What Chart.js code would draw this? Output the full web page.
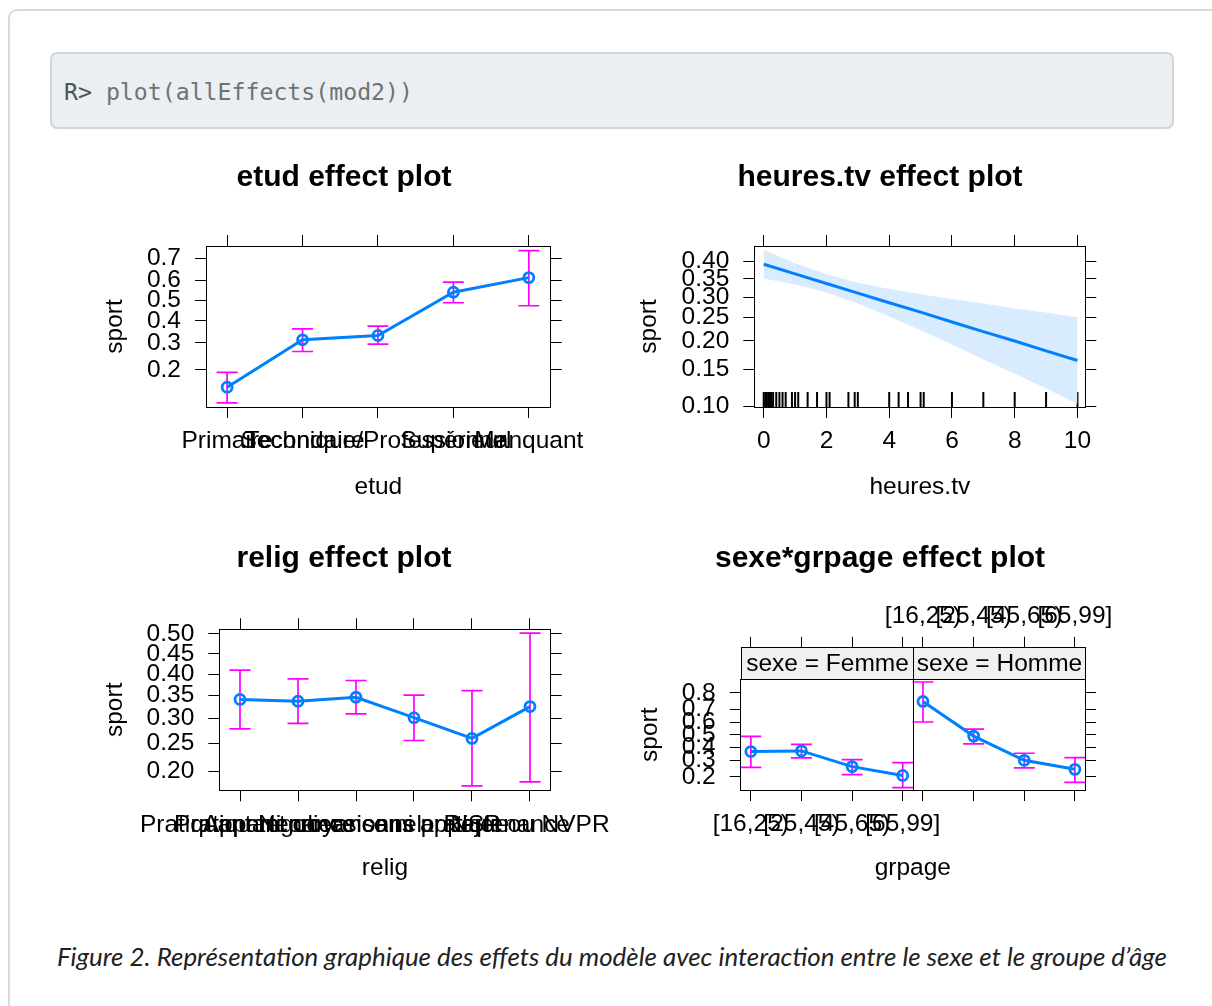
<!DOCTYPE html>
<html><head><meta charset="utf-8">
<script src="https://cdn.jsdelivr.net/npm/chart.js@4"></script>
<style>
html,body{margin:0;padding:0;background:#fff;}
body{width:1212px;height:1006px;position:relative;overflow:hidden;}
#frame{position:absolute;left:8px;top:9px;width:1240px;height:1030px;border:2px solid #dadada;border-radius:9px;box-sizing:border-box;}
#code{position:absolute;left:50px;top:52px;width:1124px;height:77px;box-sizing:border-box;background:#ebeff1;border:2px solid #cfd5d8;border-radius:7px;font-family:'DejaVu Sans Mono',monospace;font-size:23.2px;line-height:75px;padding-left:12px;color:#6b7477;white-space:pre;}
#code .p{color:#4d5558;}
canvas{position:absolute;}
#caption{position:absolute;left:57px;top:938px;font-family:Lato,sans-serif;font-style:italic;font-size:25.9px;color:#222;white-space:nowrap;line-height:36px;}
</style></head>
<body>
<div id="frame"></div>
<div id="code"><span class="p">R&gt;</span> plot(allEffects(mod2))</div>
<canvas id="c1" width="552" height="370" style="left:68px;top:150px;width:552px;height:370px"></canvas>
<canvas id="c2" width="520" height="370" style="left:620px;top:150px;width:520px;height:370px"></canvas>
<canvas id="c3" width="552" height="370" style="left:68px;top:530px;width:552px;height:370px"></canvas>
<canvas id="c4" width="520" height="370" style="left:620px;top:530px;width:520px;height:370px"></canvas>
<div id="caption">Figure 2. Représentation graphique des effets du modèle avec interaction entre le sexe et le groupe d’âge</div>
<script>
// ---------------- DATA ----------------
// Panel 1: etud
const etudCats  = ['Primaire', 'Secondaire', 'Technique/Professionnel', 'Supérieur', 'Manquant'];
const etudFit   = [0.150, 0.313, 0.332, 0.542, 0.613];
const etudLower = [0.114, 0.265, 0.295, 0.489, 0.474];
const etudUpper = [0.192, 0.362, 0.375, 0.591, 0.731];
const etudYTicks = [0.2, 0.3, 0.4, 0.5, 0.6, 0.7];

// Panel 2: heures.tv
const tvX     = [0, 1, 2, 3, 4, 5, 6, 7, 8, 9, 10];
const tvFit   = [0.392, 0.364, 0.337, 0.311, 0.286, 0.263, 0.240, 0.219, 0.200, 0.181, 0.164];
const tvLower = [0.351, 0.334, 0.313, 0.284, 0.253, 0.222, 0.193, 0.166, 0.143, 0.122, 0.103];
const tvUpper = [0.435, 0.395, 0.363, 0.339, 0.322, 0.308, 0.296, 0.284, 0.272, 0.262, 0.251];
const tvRug   = [0, 0.05, 0.1, 0.15, 0.2, 0.25, 0.3, 0.4, 0.5, 0.6, 0.7, 0.9, 1, 1.1, 1.4, 1.7, 2, 2.1, 2.7, 2.9, 3, 4, 4.3, 4.6, 5, 5.1, 6, 7, 8, 9, 10];
const tvXTicks = [0, 2, 4, 6, 8, 10];
const tvYTicks = [0.10, 0.15, 0.20, 0.25, 0.30, 0.35, 0.40];

// Panel 3: relig
const religCats  = ['Pratiquant regulier', 'Pratiquant occasionnel', 'Appartenance sans pratique', 'Ni croyance ni appartenance', 'Rejet', 'NSP ou NVPR'];
const religFit   = [0.341, 0.337, 0.346, 0.301, 0.259, 0.325];
const religLower = [0.278, 0.289, 0.309, 0.255, 0.178, 0.184];
const religUpper = [0.410, 0.389, 0.385, 0.351, 0.361, 0.502];
const religYTicks = [0.20, 0.25, 0.30, 0.35, 0.40, 0.45, 0.50];

// Panel 4: sexe*grpage
const grpageCats  = ['[16,25)', '[25,45)', '[45,65)', '[65,99]'];
const sexeLevels  = ['Femme', 'Homme'];
const femmeFit    = [0.365, 0.370, 0.259, 0.207];
const femmeLower  = [0.254, 0.318, 0.211, 0.149];
const femmeUpper  = [0.487, 0.421, 0.306, 0.285];
const hommeFit    = [0.750, 0.489, 0.301, 0.242];
const hommeLower  = [0.604, 0.426, 0.251, 0.172];
const hommeUpper  = [0.851, 0.547, 0.352, 0.320];
const sexeYTicks  = [0.2, 0.3, 0.4, 0.5, 0.6, 0.7, 0.8];

// ---------------- STYLE ----------------
const FONT = "'Liberation Sans', Arial, Helvetica, sans-serif";
const LBL = {family: FONT, size: 24.5};
const TTL = {family: FONT, size: 30, weight: 'bold'};
const BLUE = '#0080ff', MAGENTA = '#ff00ff';
const TICK = 11;
const FACET_SHIFT = 3.4;          // width of one facet in x units (0.8 .. 4.2)
const STRIP_H = 32;
const RUG_LEVEL = 0.047, RUG_HALF = 7.5;

// ---------------- LOGIT SCALE ----------------
const logit = p => Math.log(p / (1 - p));
const invLogit = l => 1 / (1 + Math.exp(-l));
class LogitScale extends Chart.LinearScale {
  determineDataLimits() { this.min = this.options.min; this.max = this.options.max; }
  buildTicks() { return []; }
  getPixelForValue(v) {
    if (v === null || v === undefined || isNaN(v)) return NaN;
    const a = logit(this.min), b = logit(this.max);
    return this.getPixelForDecimal((logit(v) - a) / (b - a));
  }
  getValueForPixel(px) {
    const a = logit(this.min), b = logit(this.max);
    return invLogit(a + this.getDecimalForPixel(px) * (b - a));
  }
}
LogitScale.id = 'logit';
LogitScale.defaults = {};
Chart.register(LogitScale);

// ---------------- HELPERS ----------------
const fitLine = (xs, ys, axis) => ({
  data: xs.map((x, i) => ({x, y: ys[i]})), yAxisID: axis || 'y',
  borderColor: BLUE, borderWidth: 3, tension: 0, fill: false,
  pointRadius: 5, pointBorderWidth: 2.8, pointBorderColor: BLUE, pointBackgroundColor: 'rgba(0,0,0,0)'
});
const ciBars = (xs, lo, hi) => {
  const pts = [];
  xs.forEach((x, i) => { pts.push({x, y: lo[i]}, {x, y: hi[i]}, {x, y: null}); });
  return {data: pts, borderColor: MAGENTA, borderWidth: 1.7, spanGaps: false, fill: false,
    pointStyle: 'line', pointRadius: 10.5, pointBorderColor: MAGENTA, pointBorderWidth: 1.7, pointHoverRadius: 10.5};
};
const gridOpt = (len) => ({display: true, drawOnChartArea: false, drawTicks: true, tickLength: len || TICK, color: '#000', lineWidth: 1});
const borderOpt = {display: true, color: '#000', width: 1};

function makeChart(id, p) {
  const xTickObjs = s => { s.ticks = p.xTicks.map(v => ({value: v})); };
  const yTickObjs = s => { s.ticks = p.yTicks.map(v => ({value: v})); };
  const scales = {
    x: {type: 'linear', position: 'bottom', min: p.xMin, max: p.xMax, bounds: 'data',
      afterBuildTicks: xTickObjs,
      ticks: {autoSkip: false, maxRotation: 0, minRotation: 0, padding: 9, color: '#000', font: LBL,
        callback: (v, i) => p.bottomLabel(i)},
      grid: gridOpt(), border: borderOpt,
      title: {display: true, text: p.xTitle, color: '#000', font: LBL, padding: {top: 0, bottom: p.xTitlePad}},
      afterFit: s => { s.height = p.sizes.bottom; s.paddingLeft = 0; s.paddingRight = 0; }},
    x2: {axis: 'x', type: 'linear', position: 'top', min: p.xMin, max: p.xMax, bounds: 'data',
      afterBuildTicks: xTickObjs,
      ticks: {display: !!p.topLabel, autoSkip: false, maxRotation: 0, minRotation: 0, padding: p.topPad || 8, color: '#000', font: LBL,
        callback: (v, i) => p.topLabel ? p.topLabel(i) : ''},
      grid: gridOpt(p.topTickLen), border: borderOpt,
      afterFit: s => { s.height = p.sizes.top; s.paddingLeft = 0; s.paddingRight = 0; }},
    y: {type: 'logit', position: 'left', min: p.yMin, max: p.yMax,
      afterBuildTicks: yTickObjs,
      ticks: {autoSkip: false, padding: 14, color: '#000', font: LBL, callback: (v, i) => p.yTicks[i].toFixed(p.yDec)},
      grid: gridOpt(), border: borderOpt,
      title: {display: true, text: 'sport', color: '#000', font: LBL, padding: {top: p.yTitlePad, bottom: 0}},
      afterFit: s => { s.width = p.sizes.left; s.paddingTop = 0; s.paddingBottom = 0; }},
    y2: {axis: 'y', type: 'logit', position: 'right', min: p.yMin, max: p.yMax,
      afterBuildTicks: yTickObjs,
      ticks: {display: false},
      grid: gridOpt(), border: borderOpt,
      afterFit: s => { s.width = p.sizes.right; s.paddingTop = 0; s.paddingBottom = 0; }}
  };
  if (p.extraScales) Object.assign(scales, p.extraScales);
  return new Chart(document.getElementById(id), {
    type: 'line',
    data: {datasets: p.datasets},
    options: {
      responsive: false, animation: false, events: [],
      layout: {padding: 0},
      plugins: {
        legend: {display: false}, tooltip: {enabled: false},
        title: {display: true, text: p.title, color: '#000', font: TTL, fullSize: true, padding: {top: p.titlePad, bottom: 0}}
      },
      scales
    },
    plugins: p.plugins || []
  });
}

// ---------------- PANEL 1: etud ----------------
const etudX = etudCats.map((c, i) => i + 1);
makeChart('c1', {
  title: 'etud effect plot', titlePad: 10,
  sizes: {left: 138, right: 69.3, top: 50, bottom: 113},
  xMin: 0.72, xMax: 5.29, xTicks: etudX, bottomLabel: i => etudCats[i], xTitle: 'etud', xTitlePad: 18.5,
  yMin: 0.106, yMax: 0.749, yTicks: etudYTicks, yDec: 1, yTitlePad: 32.3,
  datasets: [fitLine(etudX, etudFit), ciBars(etudX, etudLower, etudUpper)]
});

// ---------------- PANEL 2: heures.tv ----------------
makeChart('c2', {
  title: 'heures.tv effect plot', titlePad: 10,
  sizes: {left: 134.3, right: 54.7, top: 50, bottom: 113},
  xMin: -0.30, xMax: 10.25, xTicks: tvXTicks, bottomLabel: i => String(tvXTicks[i]), xTitle: 'heures.tv', xTitlePad: 18.5,
  yMin: 0.0995, yMax: 0.447, yTicks: tvYTicks, yDec: 2, yTitlePad: 15,
  extraScales: {yr: {axis: 'y', type: 'linear', display: false, min: 0, max: 1}},
  datasets: [
    {data: tvX.map((x, i) => ({x, y: tvFit[i]})), borderColor: BLUE, borderWidth: 3, pointRadius: 0, tension: 0, fill: false},
    {data: tvX.map((x, i) => ({x, y: tvUpper[i]})), borderWidth: 0, borderColor: 'rgba(0,0,0,0)', pointRadius: 0, tension: 0, fill: '+1', backgroundColor: 'rgb(217,236,255)'},
    {data: tvX.map((x, i) => ({x, y: tvLower[i]})), borderWidth: 0, borderColor: 'rgba(0,0,0,0)', pointRadius: 0, tension: 0, fill: false},
    {data: tvRug.map(x => ({x, y: RUG_LEVEL})), yAxisID: 'yr', showLine: false,
      pointStyle: 'line', pointRotation: 90, pointRadius: RUG_HALF, pointBorderColor: '#000', pointBorderWidth: 2}
  ]
});

// ---------------- PANEL 3: relig ----------------
const religX = religCats.map((c, i) => i + 1);
makeChart('c3', {
  title: 'relig effect plot', titlePad: 11,
  sizes: {left: 151.3, right: 69.3, top: 52.3, bottom: 109.7},
  xMin: 0.643, xMax: 6.357, xTicks: religX, bottomLabel: i => religCats[i], xTitle: 'relig', xTitlePad: 17.3,
  yMin: 0.1717, yMax: 0.5118, yTicks: religYTicks, yDec: 2, yTitlePad: 32.8,
  datasets: [fitLine(religX, religFit), ciBars(religX, religLower, religUpper)]
});

// ---------------- PANEL 4: sexe*grpage ----------------
const femmeX = grpageCats.map((c, i) => i + 1);
const hommeX = grpageCats.map((c, i) => i + 1 + FACET_SHIFT);
const stripPlugin = {
  id: 'strips',
  afterDraw(chart) {
    const {ctx, chartArea: a} = chart;
    const x = chart.scales.x;
    const edges = [0, 1, 2].map(k => Math.round(x.getPixelForValue(0.8 + k * FACET_SHIFT)) + 0.5);
    const top = Math.round(a.top - STRIP_H) + 0.5, bot = Math.round(a.top) + 0.5;
    ctx.save();
    ctx.lineWidth = 1; ctx.strokeStyle = '#000';
    sexeLevels.forEach((lev, k) => {
      ctx.fillStyle = '#f0f0f0';
      ctx.fillRect(edges[k], top, edges[k + 1] - edges[k], bot - top);
      ctx.strokeRect(edges[k], top, edges[k + 1] - edges[k], bot - top);
      ctx.fillStyle = '#000';
      ctx.font = '24.5px ' + FONT;
      ctx.textAlign = 'center'; ctx.textBaseline = 'middle';
      ctx.fillText('sexe = ' + lev, (edges[k] + edges[k + 1]) / 2, (top + bot) / 2 + 1);
    });
    ctx.beginPath(); ctx.moveTo(edges[1], bot); ctx.lineTo(edges[1], Math.round(a.bottom) + 0.5); ctx.stroke();
    ctx.restore();
  }
};
makeChart('c4', {
  title: 'sexe*grpage effect plot', titlePad: 11,
  sizes: {left: 120.7, right: 55, top: 102.3, bottom: 110},
  xMin: 0.8, xMax: 0.8 + 2 * FACET_SHIFT, xTicks: femmeX.concat(hommeX),
  bottomLabel: i => i < grpageCats.length ? grpageCats[i] : '',
  topLabel: i => i >= grpageCats.length ? grpageCats[i - grpageCats.length] : '',
  topTickLen: 42.5, topPad: 6,
  xTitle: 'grpage', xTitlePad: 17.3,
  yMin: 0.139, yMax: 0.862, yTicks: sexeYTicks, yDec: 1, yTitlePad: 15.3,
  datasets: [fitLine(femmeX, femmeFit), fitLine(hommeX, hommeFit), ciBars(femmeX, femmeLower, femmeUpper), ciBars(hommeX, hommeLower, hommeUpper)],
  plugins: [stripPlugin]
});
</script>
</body></html>
